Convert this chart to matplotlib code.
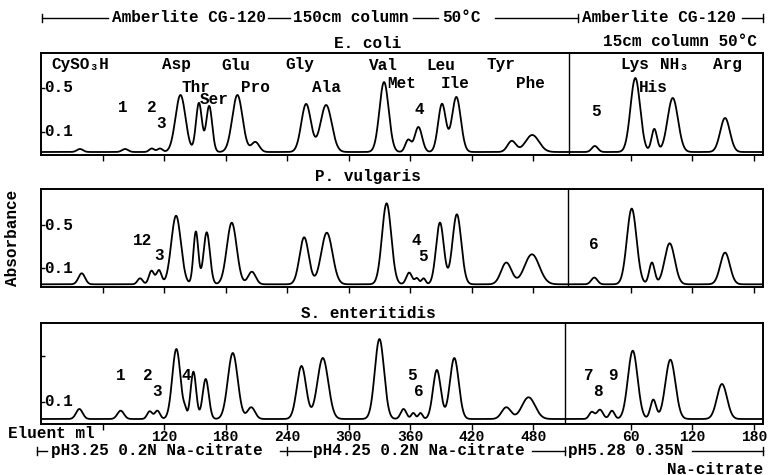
import numpy as np
import matplotlib.pyplot as plt
from matplotlib.lines import Line2D

plt.rcParams['font.family'] = ['Liberation Mono', 'DejaVu Sans Mono']
plt.rcParams['font.weight'] = 'bold'

W, H = 768, 475
SHORT0 = 515  # the 15 cm column trace starts here on the shared x axis
XMAX = 704

# peak tables: elution ml, height above baseline (chart px), sigma (ml)
# --- E. coli
ecoli_long_ml = [38, 82, 108, 116, 136, 154, 164, 191.5, 209, 258.5, 278, 334.5, 358, 368, 391, 405, 459, 479]
ecoli_long_h = [3, 3, 3.5, 3.5, 57, 49, 46, 57, 10, 48, 47, 70, 12, 25, 48, 55, 11, 17]
ecoli_long_w = [3, 3, 2.5, 2.5, 4.9, 2.9, 2.9, 5.0, 3.8, 4.7, 5.5, 4.5, 2.8, 3.6, 3.8, 4.3, 4.1, 6.6]
ecoli_short_ml = [25, 64.5, 83, 101, 152]
ecoli_short_h = [6, 74, 23, 54, 34]
ecoli_short_w = [3, 4.7, 2.7, 5.1, 4.7]

# --- P. vulgaris
prot_long_ml = [39.7, 96.6, 107.7, 115, 131.7, 151, 161.6, 186, 205.6, 256.6, 278.7, 337, 359, 366.5, 373, 389, 405.5, 453.7, 478.7]
prot_long_h = [11, 6, 13.5, 14, 68.6, 52.7, 52, 61.6, 12.6, 47, 51.6, 81, 11.7, 6, 6, 61.7, 70, 21.7, 30]
prot_long_w = [3.2, 2.5, 2.5, 2.5, 4.7, 2.4, 3.1, 4.8, 3.7, 4.5, 5.5, 4.5, 2.8, 2, 2, 3.8, 4.3, 5.1, 7.2]
prot_short_ml = [24.5, 61, 80.7, 98, 152]
prot_short_h = [6.7, 75.7, 21.7, 41, 31.7]
prot_short_w = [3, 4.7, 2.7, 4.9, 4.7]

# --- S. enteritidis
salm_long_ml = [37.4, 77.7, 106, 113.5, 132, 140.5, 148.6, 160.6, 187, 205, 254, 274.8, 330, 353.5, 363, 370, 386, 403, 453.7, 475.4]
salm_long_h = [10, 8.3, 7.7, 8.3, 70, 6, 47.3, 40, 66, 11.7, 53, 61, 80, 10, 6, 6, 49, 61, 11.7, 21.7]
salm_long_w = [3.2, 3.2, 2.5, 2.5, 4.0, 1.5, 2.7, 3.0, 4.8, 3.7, 4.5, 5.3, 4.5, 2.8, 2, 2, 3.8, 4.3, 4.5, 6.4]
salm_short_ml = [22, 30, 41.7, 62, 82, 98.7, 149]
salm_short_h = [7, 9.3, 8.3, 68.3, 19.3, 59.3, 35]
salm_short_w = [2.5, 3, 2.5, 4.7, 2.8, 4.9, 4.9]

# axis ticks
long_ticks = [60, 120, 180, 240, 300, 360, 420, 480]
short_ticks = [60, 120, 180]

# peak names: (label, x on shared axis, height)
ecoli_labels = [('CySO₃H', 38, 87), ('Asp', 132, 87), ('Glu', 190, 87), ('Gly', 252.5, 87),
                ('Val', 333.5, 87), ('Leu', 390, 87), ('Tyr', 448.5, 87),
                ('Lys', 579, 87), ('NH₃', 618, 87), ('Arg', 669, 87),
                ('Thr', 151, 65), ('Pro', 208.7, 64), ('Ala', 278, 64),
                ('Met', 352, 69), ('Ile', 403.7, 69), ('Phe', 477, 69), ('His', 597, 65),
                ('Ser', 169, 53),
                ('1', 80, 45), ('2', 108, 45), ('3', 117, 29), ('4', 368.6, 42), ('5', 541, 40)]
prot_labels = [('12', 99.5, 44), ('3', 115, 29), ('4', 365.6, 44), ('5', 372.5, 28), ('6', 539, 40)]
salm_labels = [('1', 78, 43), ('2', 104, 43), ('3', 113, 27), ('4', 142, 43),
               ('5', 362, 43), ('6', 368.6, 28), ('7', 534, 43), ('8', 543, 28), ('9', 558, 43)]


def trace(x, ml, h, w, offset=0):
    y = np.zeros_like(x)
    for p, a, s in zip(ml, h, w):
        y += a * np.exp(-(x - (p + offset)) ** 2 / (2 * s ** 2))
    return y


def fx(x):
    return x / W


def fy(y):
    return 1 - y / H


fig = plt.figure(figsize=(7.68, 4.75), dpi=100)

panels = [
    # title, box top/bottom px, baseline px, divider, y ticks (0.1, 0.5), show 0.5 label, ...
    ('E. coli', 53, 155, 152, 515, (20, 64), True,
     ecoli_long_ml, ecoli_long_h, ecoli_long_w, ecoli_short_ml, ecoli_short_h, ecoli_short_w, ecoli_labels, 43),
    ('P. vulgaris', 189, 287, 284.3, 514, (16, 59), True,
     prot_long_ml, prot_long_h, prot_long_w, prot_short_ml, prot_short_h, prot_short_w, prot_labels, 176),
    ('S. enteritidis', 323, 424, 419, 511, (17, 63), False,
     salm_long_ml, salm_long_h, salm_long_w, salm_short_ml, salm_short_h, salm_short_w, salm_labels, 313),
]

x = np.linspace(0, XMAX, 5000)
for i, (title, top, bot, base, div, yt, lab05, lml, lh, lw, sml, sh, sw, labels, ty) in enumerate(panels):
    ax = fig.add_axes([fx(41), fy(bot), fx(763) - fx(41), (bot - top) / H])
    y = trace(x, lml, lh, lw) + trace(x, sml, sh, sw, SHORT0)
    ax.plot(x, y, color='black', lw=1.3)
    ax.axvline(div, color='black', lw=1.0)
    ax.set_xlim(0, XMAX)
    ax.set_ylim(-(bot - base), base - top)
    for sp in ax.spines.values():
        sp.set_linewidth(1.4)

    ax.set_xticks(long_ticks + [SHORT0 + t for t in short_ticks])
    if i == 2:
        ax.set_xticklabels([''] + [str(t) for t in long_ticks[1:]] + [str(t) for t in short_ticks])
    else:
        ax.set_xticklabels([])
    ax.tick_params(axis='x', direction='out', length=4, width=1, labelsize=10.5, pad=0)

    ax.set_yticks(list(yt))
    ax.set_yticklabels([])
    ax.tick_params(axis='y', direction='in', length=3, width=1)
    ax.text(3, yt[0], '0.1', ha='left', va='center', fontsize=11.5)
    if lab05:
        ax.text(3, yt[1], '0.5', ha='left', va='center', fontsize=11.5)

    for name, lx, ly in labels:
        ax.text(lx, ly, name, ha='center', va='center', fontsize=11.5)

    fig.text(fx(368), fy(ty), title, ha='center', va='center', fontsize=11.5)


def hline(x0, x1, y):
    fig.add_artist(Line2D([fx(x0), fx(x1)], [fy(y), fy(y)], color='black', lw=1))


def vtick(xp, y, half=4):
    fig.add_artist(Line2D([fx(xp), fx(xp)], [fy(y - half), fy(y + half)], color='black', lw=1))


def label(xp, y, s, ha='left'):
    fig.text(fx(xp), fy(y), s, ha=ha, va='center', fontsize=11.5)


# column / temperature header
ty = 18
vtick(42, ty); hline(42, 108, ty)
label(112, ty, 'Amberlite CG-120')
hline(268, 290, ty)
label(293, ty, '150cm column')
hline(413, 438, ty)
label(442, ty, '50°C')
hline(495, 578, ty); vtick(578, ty)
label(582, ty, 'Amberlite CG-120')
hline(742, 763, ty); vtick(763, ty)
label(757, 42, '15cm column 50°C', ha='right')

# eluent footer
by = 451
vtick(37, by); hline(37, 47, by)
label(51, by, 'pH3.25 0.2N Na-citrate')
hline(280, 311, by); vtick(287, by)
label(313, by, 'pH4.25 0.2N Na-citrate')
hline(532, 565, by); vtick(565, by)
label(568, by, 'pH5.28 0.35N')
hline(692, 763, by); vtick(763, by)
label(763, 469, 'Na-citrate', ha='right')
label(8, 433, 'Eluent ml')

fig.text(fx(13), fy(238), 'Absorbance', rotation=90, ha='center', va='center', fontsize=11.5)

fig.savefig('out.png', dpi=100)
